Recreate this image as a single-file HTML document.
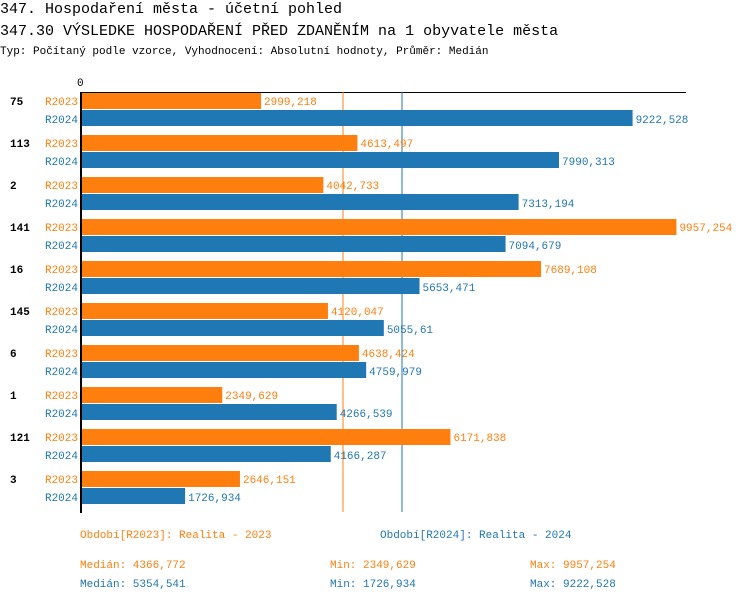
<!DOCTYPE html>
<html><head><meta charset="utf-8"><style>
body{margin:0;background:#fff}
svg{display:block;font-family:"Liberation Mono","DejaVu Sans Mono",monospace}
</style></head><body>
<svg width="750" height="602" xmlns="http://www.w3.org/2000/svg">
<text x="0" y="13" font-size="15" fill="#000">347. Hospodaření města - účetní pohled</text>
<text x="0" y="35" font-size="15" fill="#000">347.30 VÝSLEDKE HOSPODAŘENÍ PŘED ZDANĚNÍM na 1 obyvatele města</text>
<text x="0" y="54" font-size="11" fill="#000">Typ: Počítaný podle vzorce, Vyhodnocení: Absolutní hodnoty, Průměr: Medián</text>
<text x="77" y="86" font-size="11" fill="#000">0</text>
<line x1="80" y1="92.5" x2="686" y2="92.5" stroke="#000" stroke-width="1"/>
<line x1="343" y1="92" x2="343" y2="512" stroke="#ff7f0e" stroke-width="1"/>
<line x1="402" y1="92" x2="402" y2="512" stroke="#1f77b4" stroke-width="1"/>
<g id="bars" font-size="11"></g>
<line x1="81" y1="92" x2="81" y2="513" stroke="#000" stroke-width="2"/>
<text x="80" y="538" font-size="11" fill="#ff7f0e">Období[R2023]: Realita - 2023</text>
<text x="380" y="538" font-size="11" fill="#1f77b4">Období[R2024]: Realita - 2024</text>
<g font-size="11">
<text x="80" y="568" fill="#ff7f0e">Medián: 4366,772</text>
<text x="330" y="568" fill="#ff7f0e">Min: 2349,629</text>
<text x="530" y="568" fill="#ff7f0e">Max: 9957,254</text>
<text x="80" y="587" fill="#1f77b4">Medián: 5354,541</text>
<text x="330" y="587" fill="#1f77b4">Min: 1726,934</text>
<text x="530" y="587" fill="#1f77b4">Max: 9222,528</text>
</g>
</svg>
<script>
var d=[["75","2999,218","9222,528"],["113","4613,497","7990,313"],["2","4042,733","7313,194"],["141","9957,254","7094,679"],["16","7689,108","5653,471"],["145","4120,047","5055,61"],["6","4638,424","4759,979"],["1","2349,629","4266,539"],["121","6171,838","4166,287"],["3","2646,151","1726,934"]];
var g=document.getElementById('bars'),h='';
function v(s){return parseFloat(s.replace(',','.'));}
d.forEach(function(r,i){var y=93+42*i;
h+='<text x="10" y="'+(y+12)+'" font-weight="bold" fill="#000">'+r[0]+'</text>';
var w1=v(r[1])*0.0597,w2=v(r[2])*0.0597;
h+='<text x="78" y="'+(y+12)+'" text-anchor="end" fill="#ff7f0e">R2023</text>';
h+='<rect x="82" y="'+y+'" width="'+w1+'" height="16" fill="#ff7f0e"/>';
h+='<text x="'+(85+w1)+'" y="'+(y+12)+'" fill="#ff7f0e">'+r[1]+'</text>';
h+='<text x="78" y="'+(y+30)+'" text-anchor="end" fill="#1f77b4">R2024</text>';
h+='<rect x="82" y="'+(y+17)+'" width="'+w2+'" height="16" fill="#1f77b4"/>';
h+='<text x="'+(85+w2)+'" y="'+(y+30)+'" fill="#1f77b4">'+r[2]+'</text>';
});
g.innerHTML=h;
</script>
</body></html>
